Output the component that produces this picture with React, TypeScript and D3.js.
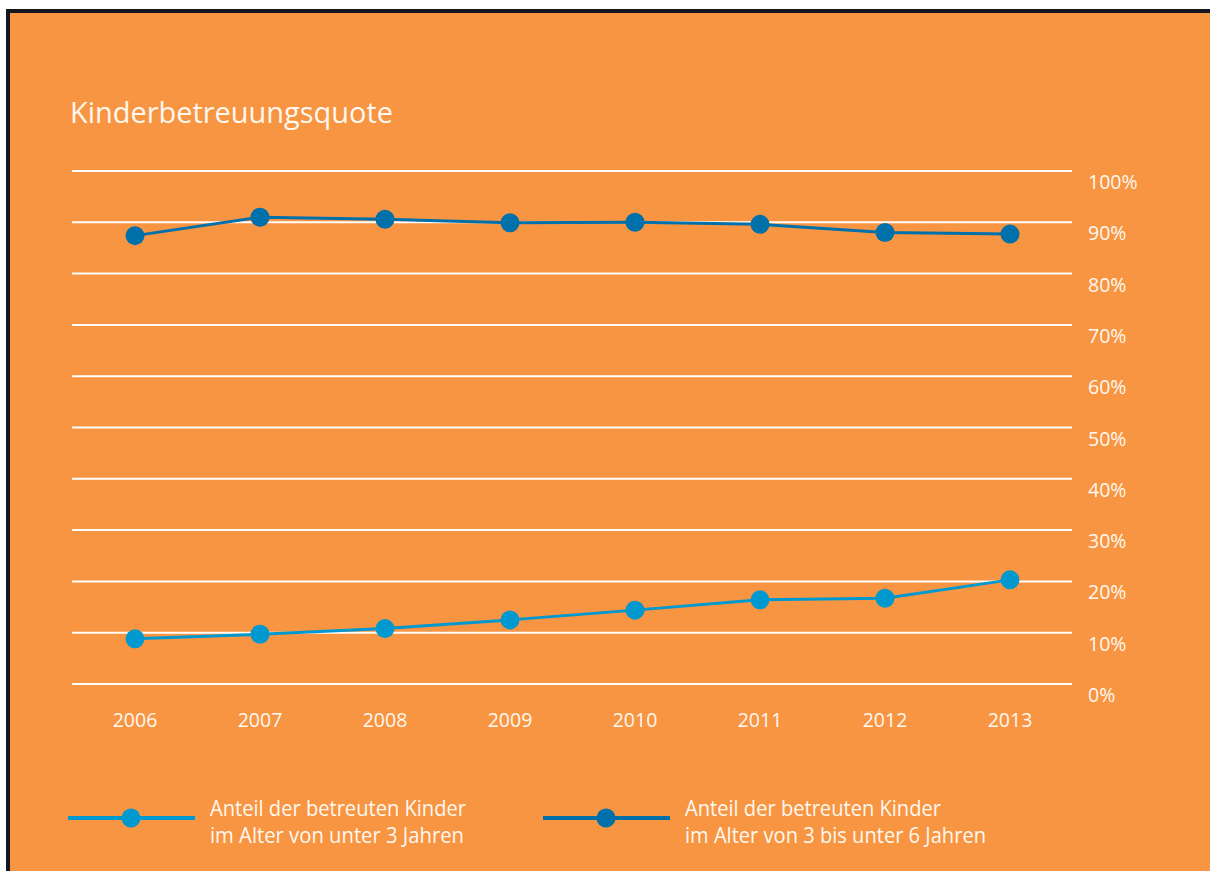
import * as d3 from "d3";

const years = ["2006", "2007", "2008", "2009", "2010", "2011", "2012", "2013"];
const under3 = [8.8, 9.7, 10.8, 12.5, 14.4, 16.4, 16.7, 20.3];
const from3to6 = [87.4, 91.0, 90.6, 89.9, 90.0, 89.6, 88.0, 87.7];
const yTicks = [0, 10, 20, 30, 40, 50, 60, 70, 80, 90, 100];

const title = "Kinderbetreuungsquote";
const legendItems = [
  { lines: ["Anteil der betreuten Kinder", "im Alter von unter 3 Jahren"], widths: [256, 254], color: "#0099cf" },
  { lines: ["Anteil der betreuten Kinder", "im Alter von 3 bis unter 6 Jahren"], widths: [256, 301], color: "#0070ab" },
];

const W = 1210;
const H = 871;
const ORANGE = "#f79542";
const TEXT = "#fff8f0";
const FONT = "'Open Sans', 'Noto Sans', sans-serif";

export default function App() {
  const x = d3.scalePoint<string>().domain(years).range([135, 1010]);
  const y = d3.scaleLinear().domain([0, 100]).range([684, 171]);

  const line = d3
    .line<number>()
    .x((_, i) => x(years[i])!)
    .y((d) => y(d));

  const series = [
    { values: under3, color: legendItems[0].color },
    { values: from3to6, color: legendItems[1].color },
  ];

  // legend geometry
  const legendX = [68, 543];
  const legendY = 818;

  return (
    <svg
      width={W}
      height={H}
      style={{ position: "absolute", left: 0, top: 0, display: "block" }}
    >
      <rect x={0} y={0} width={W} height={H} fill="#ffffff" />
      <rect x={6} y={9} width={W + 10} height={H} fill="#15151f" />
      <rect x={10} y={13} width={W + 10} height={H} fill={ORANGE} />

      <text
        x={70}
        y={123}
        fill={TEXT}
        fontFamily={FONT}
        fontSize={29}
        textLength={323}
        lengthAdjust="spacingAndGlyphs"
      >
        {title}
      </text>

      {yTicks.map((t) => (
        <g key={t}>
          <line x1={72} x2={1072} y1={y(t)} y2={y(t)} stroke="#ffffff" strokeWidth={2} />
          <text x={1088} y={y(t) + 18} fill={TEXT} fontFamily={FONT} fontSize={19.5}>
            {t}%
          </text>
        </g>
      ))}

      {years.map((yr) => (
        <text
          key={yr}
          x={x(yr)}
          y={727}
          textAnchor="middle"
          fill={TEXT}
          fontFamily={FONT}
          fontSize={19.5}
        >
          {yr}
        </text>
      ))}

      {series.map((s, si) => (
        <g key={si}>
          <path d={line(s.values)!} fill="none" stroke={s.color} strokeWidth={3} />
          {s.values.map((v, i) => (
            <circle key={i} cx={x(years[i])} cy={y(v)} r={9.5} fill={s.color} />
          ))}
        </g>
      ))}

      {legendItems.map((item, li) => {
        const lx = legendX[li];
        return (
          <g key={li}>
            <line
              x1={lx}
              x2={lx + 127}
              y1={legendY}
              y2={legendY}
              stroke={item.color}
              strokeWidth={4}
            />
            <circle cx={lx + 63} cy={legendY} r={9.5} fill={item.color} />
            {item.lines.map((t, k) => (
              <text
                key={k}
                x={lx + 142}
                y={816 + k * 26.7}
                fill={TEXT}
                fontFamily={FONT}
                fontSize={21}
                textLength={item.widths[k]}
                lengthAdjust="spacingAndGlyphs"
              >
                {t}
              </text>
            ))}
          </g>
        );
      })}
    </svg>
  );
}
